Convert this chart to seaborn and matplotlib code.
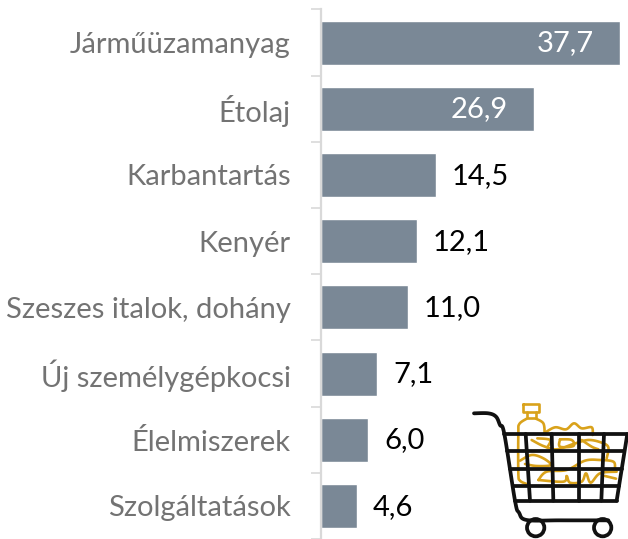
import numpy as np
import pandas as pd
import seaborn as sns
import matplotlib.pyplot as plt

categories = ['Járműüzamanyag', 'Étolaj', 'Karbantartás', 'Kenyér',
              'Szeszes italok, dohány', 'Új személygépkocsi', 'Élelmiszerek', 'Szolgáltatások']
values = [37.7, 26.9, 14.5, 12.1, 11.0, 7.1, 6.0, 4.6]

sns.set_theme(style='white')
plt.rcParams['font.family'] = ['Lato', 'DejaVu Sans']

W, H = 628, 539
fig = plt.figure(figsize=(W / 100, H / 100), dpi=100)
ax = fig.add_axes([320.5 / W, 0, (W - 320.5) / W, 1])

data = pd.DataFrame({'category': categories, 'value': values})
sns.barplot(data=data, y='category', x='value', color='#7A8896', saturation=1, width=0.665, ax=ax)

# axis runs a little past the bottom of the picture
ax.set_xlim(0, (W - 320.5) / 7.95)
ax.set_ylim(7.5 - 1.7 / 66.4, -0.5 - 9.5 / 66.4)
ax.set_xlabel('')
ax.set_ylabel('')
ax.set_xticks([])

ax.set_yticks(np.arange(len(categories)))
ax.set_yticks(np.arange(len(categories) + 1) - 0.5, minor=True)
ax.tick_params(axis='y', which='major', length=0, pad=21.5, labelsize=21, labelcolor='#737373')
ax.tick_params(axis='y', which='minor', left=True, length=7, width=1.2, color='#D9D9D9')

sns.despine(ax=ax, top=True, right=True, bottom=True)
ax.spines['left'].set_color('#D9D9D9')
ax.spines['left'].set_linewidth(1.6)
ax.spines['left'].set_bounds(-0.5, 7.5)

# value labels, white inside the two long bars
for i, v in enumerate(values):
    txt = f'{v:.1f}'.replace('.', ',')
    if v > 20:
        ax.annotate(txt, (v, i), xytext=(-19, -0.5), textcoords='offset points', ha='right', va='center',
                    color='white', fontsize=21)
    else:
        ax.annotate(txt, (v, i), xytext=(11.5, -0.5), textcoords='offset points', ha='left', va='center',
                    color='black', fontsize=21)

# shopping cart icon, drawn in the coordinates of a 3x crop of its corner
icon = fig.add_axes([460 / W, 0, 168 / W, 149 / H])
icon.set_xlim(0, 504)
icon.set_ylim(447, 0)
icon.axis('off')
icon.patch.set_alpha(0)

gold = '#D9A21B'
black = '#111111'


def smooth(points, n=12):
    pts = np.array(points, dtype=float)
    out = []
    padded = np.vstack([pts[0], pts, pts[-1]])
    for k in range(1, len(padded) - 2):
        p0, p1, p2, p3 = padded[k - 1:k + 3]
        for t in np.linspace(0, 1, n, endpoint=False):
            out.append(0.5 * (2 * p1 + (p2 - p0) * t + (2 * p0 - 5 * p1 + 4 * p2 - p3) * t ** 2
                              + (3 * p1 - p0 - 3 * p2 + p3) * t ** 3))
    out.append(pts[-1])
    return np.array(out)


def gold_line(points, curve=True):
    p = smooth(points) if curve else np.array(points)
    icon.plot(p[:, 0], p[:, 1], color=gold, lw=1.9, solid_capstyle='round', solid_joinstyle='round')


# bottle
gold_line([(190, 42), (238, 42), (238, 66), (190, 66), (190, 42)], curve=False)
gold_line([(200, 66), (200, 84), (228, 84), (228, 66)], curve=False)
gold_line([(200, 86), (178, 102), (175, 130), (175, 250), (180, 272), (200, 282)])
gold_line([(228, 86), (250, 100), (254, 130)])
# groceries
gold_line([(252, 130), (285, 112), (318, 118), (342, 100), (365, 115), (395, 112), (398, 135)])
gold_line([(215, 150), (250, 168), (290, 178), (340, 162), (385, 150), (425, 158), (445, 172), (440, 205)])
gold_line([(300, 148), (335, 150), (340, 168), (300, 170), (300, 148)])
gold_line([(365, 150), (395, 170), (415, 178)])
gold_line([(232, 145), (270, 150), (262, 172)])
gold_line([(180, 212), (215, 195), (250, 205), (272, 225), (230, 228), (195, 222)])
gold_line([(235, 270), (260, 245), (320, 240), (375, 212), (420, 210), (460, 215), (465, 235)])
gold_line([(235, 270), (310, 275), (320, 258), (330, 278), (365, 275), (378, 250), (392, 278), (420, 250), (470, 245)])
gold_line([(435, 258), (468, 266)], curve=False)

# basket
lw = 2.7
icon.plot([133, 502], [132, 132], color=black, lw=lw)
icon.plot([502, 470], [132, 332], color=black, lw=lw)
icon.plot([165, 470], [332, 332], color=black, lw=lw)
for yy, x0, x1 in [(184, 141, 493), (237, 150, 485), (287, 158, 477)]:
    icon.plot([x0, x1], [yy, yy], color=black, lw=lw)
for x0, x1 in [(197, 210), (275, 280), (356, 356), (432, 424)]:
    icon.plot([x0, x1], [132, 332], color=black, lw=lw)

# handle and frame
frame = smooth([(42, 70), (85, 70), (108, 80), (120, 105), (133, 132), (165, 332), (177, 368), (200, 390), (300, 391), (445, 391)])
icon.plot(frame[:, 0], frame[:, 1], color=black, lw=lw, solid_capstyle='round')
for cx in [227, 428]:
    icon.add_patch(plt.Circle((cx, 413), 26, fill=False, ec=black, lw=lw))

fig.savefig('out.png', dpi=100)
